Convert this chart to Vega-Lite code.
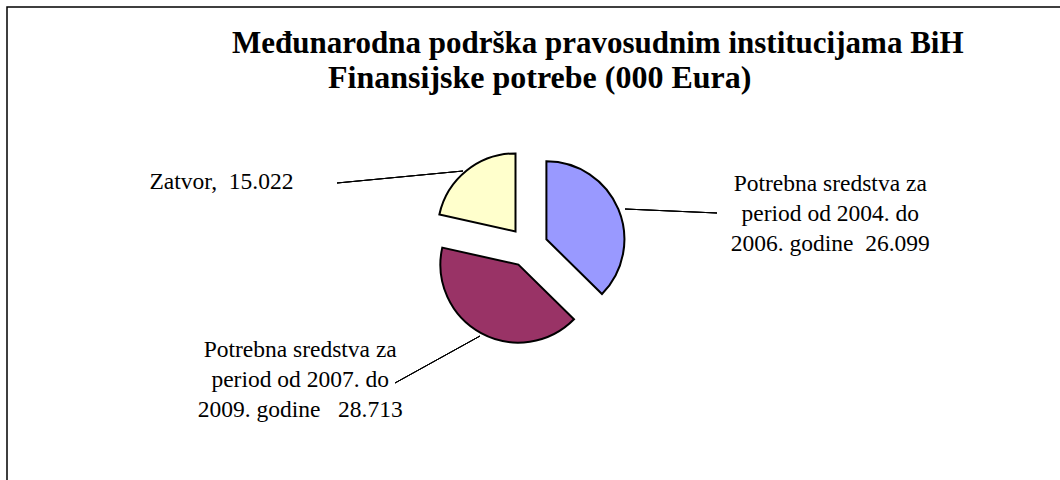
{
  "$schema": "https://vega.github.io/schema/vega-lite/v6.json",
  "autosize": {"type": "none"},
  "width": 1120,
  "height": 520,
  "padding": {"left": 7, "top": 7, "right": 0, "bottom": 0},
  "background": "white",
  "view": {"stroke": "black", "strokeWidth": 1.5},
  "config": {"view": {"stroke": "black", "strokeWidth": 1.5}, "style": {"cell": {"stroke": "black", "strokeWidth": 1.5}}},
  "title": {
    "text": "Međunarodna podrška pravosudnim institucijama BiH",
    "subtitle": "\u200b\u00a0\u00a0\u00a0\u00a0\u00a0\u00a0\u00a0\u00a0\u00a0\u00a0\u00a0\u00a0Finansijske potrebe (000 Eura)",
    "anchor": "start",
    "frame": "group",
    "dx": 225,
    "offset": -88,
    "font": "Liberation Serif",
    "fontSize": 31,
    "fontWeight": "bold",
    "color": "black",
    "subtitleFont": "Liberation Serif",
    "subtitleFontSize": 32,
    "subtitleFontWeight": "bold",
    "subtitleColor": "black",
    "subtitlePadding": 3
  },
  "data": {
    "values": [
      {"rb": 1, "kategorija": "Potrebna sredstva za period od 2004. do 2006. godine", "vrijednost": 26099, "oznaka": "Potrebna sredstva za\nperiod od 2004. do\n2006. godine \u00a026.099"},
      {"rb": 2, "kategorija": "Potrebna sredstva za period od 2007. do 2009. godine", "vrijednost": 28713, "oznaka": "Potrebna sredstva za\nperiod od 2007. do\n2009. godine \u00a0\u00a028.713"},
      {"rb": 3, "kategorija": "Zatvor", "vrijednost": 15022, "oznaka": "Zatvor, \u00a015.022"}
    ]
  },
  "encoding": {
    "theta": {"field": "vrijednost", "type": "quantitative", "stack": true},
    "order": {"field": "rb", "type": "quantitative", "sort": "ascending"}
  },
  "layer": [
    {
      "mark": {"type": "arc", "outerRadius": 78, "stroke": "black", "strokeWidth": 2, "xOffset": -20.6, "yOffset": -27.7},
      "encoding": {
        "color": {"field": "kategorija", "type": "nominal", "legend": null,
          "scale": {"domain": ["Potrebna sredstva za period od 2004. do 2006. godine", "Potrebna sredstva za period od 2007. do 2009. godine", "Zatvor"], "range": ["#9999FF", "#993366", "#FFFFCC"]}},
        "opacity": {"condition": {"test": "datum.rb == 1", "value": 1}, "value": 0}
      }
    },
    {
      "mark": {"type": "arc", "outerRadius": 78, "stroke": "black", "strokeWidth": 2, "xOffset": -48.6, "yOffset": -2.4},
      "encoding": {
        "color": {"field": "kategorija", "type": "nominal", "legend": null},
        "opacity": {"condition": {"test": "datum.rb == 2", "value": 1}, "value": 0}
      }
    },
    {
      "mark": {"type": "arc", "outerRadius": 78, "stroke": "black", "strokeWidth": 2, "xOffset": -51.5, "yOffset": -35.6},
      "encoding": {
        "color": {"field": "kategorija", "type": "nominal", "legend": null},
        "opacity": {"condition": {"test": "datum.rb == 3", "value": 1}, "value": 0}
      }
    },
    {
      "mark": {"type": "text", "font": "Liberation Serif", "fontSize": 23.5, "lineHeight": 30, "lineBreak": "\n", "align": "center", "baseline": "alphabetic", "color": "black", "radius": 100, "dx": 171, "dy": -37},
      "encoding": {
        "text": {"condition": {"test": "datum.rb == 1", "field": "oznaka"}, "value": ""}
      }
    },
    {
      "mark": {"type": "text", "font": "Liberation Serif", "fontSize": 23.5, "lineHeight": 30, "lineBreak": "\n", "align": "center", "baseline": "alphabetic", "color": "black", "radius": 100, "dx": -219, "dy": 2},
      "encoding": {
        "text": {"condition": {"test": "datum.rb == 2", "field": "oznaka"}, "value": ""}
      }
    },
    {
      "mark": {"type": "text", "font": "Liberation Serif", "fontSize": 23.5, "lineHeight": 30, "lineBreak": "\n", "align": "center", "baseline": "alphabetic", "color": "black", "radius": 100, "dx": -283, "dy": 0},
      "encoding": {
        "text": {"condition": {"test": "datum.rb == 3", "field": "oznaka"}, "value": ""}
      }
    },
    {
      "mark": {"type": "rule", "color": "black", "strokeWidth": 1},
      "encoding": {"x": {"value": 618}, "y": {"value": 202}, "x2": {"value": 710}, "y2": {"value": 206}}
    },
    {
      "mark": {"type": "rule", "color": "black", "strokeWidth": 1},
      "encoding": {"x": {"value": 388}, "y": {"value": 376}, "x2": {"value": 473}, "y2": {"value": 329}}
    },
    {
      "mark": {"type": "rule", "color": "black", "strokeWidth": 1},
      "encoding": {"x": {"value": 330}, "y": {"value": 176}, "x2": {"value": 456}, "y2": {"value": 164}}
    }
  ]
}
